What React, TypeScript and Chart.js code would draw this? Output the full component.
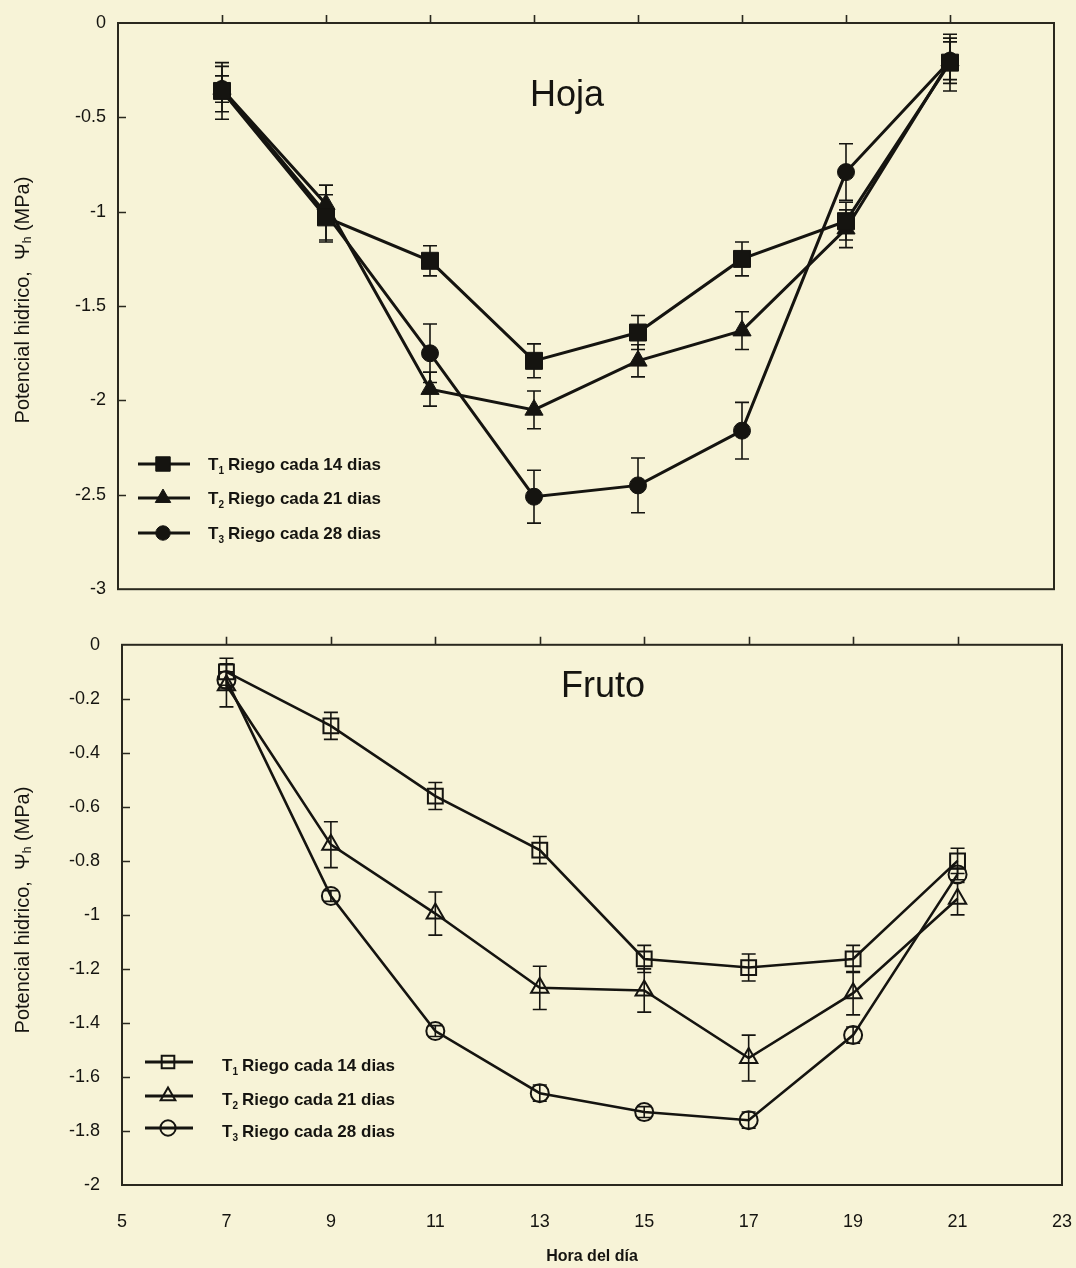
import React, { useEffect, useRef } from 'react';
import { Chart, registerables } from 'chart.js';

Chart.register(...registerables);

// ---------- data ----------
const hours = [7, 9, 11, 13, 15, 17, 19, 21];
const xTickLabels = [5, 7, 9, 11, 13, 15, 17, 19, 21, 23];
const xTopTicks = [7, 9, 11, 13, 15, 17, 19, 21];

const hojaYTicks = [0, -0.5, -1, -1.5, -2, -2.5, -3];
const frutoYTicks = [0, -0.2, -0.4, -0.6, -0.8, -1, -1.2, -1.4, -1.6, -1.8, -2];

const seriesIndex = ['1', '2', '3'];
const seriesLabels = ['Riego cada 14 dias', 'Riego cada 21 dias', 'Riego cada 28 dias'];
const seriesStyles = ['rect', 'triangle', 'circle'];

// Hoja (leaf)
const hojaT1 = [-0.36, -1.03, -1.26, -1.79, -1.64, -1.25, -1.05, -0.21];
const hojaT1Err = [0.15, 0.12, 0.08, 0.09, 0.09, 0.09, 0.1, 0.15];
const hojaT2 = [-0.35, -0.96, -1.94, -2.05, -1.79, -1.63, -1.09, -0.2];
const hojaT2Err = [0.07, 0.1, 0.09, 0.1, 0.085, 0.1, 0.1, 0.1];
const hojaT3 = [-0.35, -1.01, -1.75, -2.51, -2.45, -2.16, -0.79, -0.2];
const hojaT3Err = [0.12, 0.15, 0.155, 0.14, 0.145, 0.15, 0.15, 0.12];

// Fruto (fruit)
const frutoT1 = [-0.1, -0.3, -0.56, -0.76, -1.163, -1.195, -1.163, -0.8];
const frutoT1Err = [0.05, 0.05, 0.05, 0.05, 0.05, 0.05, 0.05, 0.047];
const frutoT2 = [-0.15, -0.74, -0.995, -1.27, -1.28, -1.53, -1.29, -0.94];
const frutoT2Err = [0.08, 0.085, 0.08, 0.08, 0.08, 0.085, 0.08, 0.06];
const frutoT3 = [-0.13, -0.93, -1.43, -1.66, -1.73, -1.76, -1.445, -0.85];
const frutoT3Err = [0.03, 0.02, 0.02, 0.03, 0.02, 0.03, 0.03, 0.02];

// ---------- styles ----------
const BG = '#f7f3d7';
const INK = '#151410';
const AXIS = '#2a281e';
const FONT = '"Liberation Sans", Arial, sans-serif';

type PanelCfg = {
  title: string;
  titleX: number;
  titleY: number;
  yTicks: number[];
  yTitleCenter: number;
  filled: boolean;
  legendY: number[];
  legendLineX: [number, number];
  legendMarkX: number;
  legendTextX: number;
  legendTextDy: number;
  radii: number[];
  xTitle: boolean;
  xTitleY: number;
};

function drawMarker(ctx: CanvasRenderingContext2D, style: string, r: number, x: number, y: number, filled: boolean) {
  ctx.beginPath();
  if (style === 'rect') {
    const s = Math.SQRT1_2 * r;
    ctx.rect(x - s, y - s, 2 * s, 2 * s);
  } else if (style === 'triangle') {
    let rad = 0;
    ctx.moveTo(x + Math.sin(rad) * r, y - Math.cos(rad) * r);
    rad += (2 * Math.PI) / 3;
    ctx.lineTo(x + Math.sin(rad) * r, y - Math.cos(rad) * r);
    rad += (2 * Math.PI) / 3;
    ctx.lineTo(x + Math.sin(rad) * r, y - Math.cos(rad) * r);
    ctx.closePath();
  } else {
    ctx.arc(x, y, r, 0, Math.PI * 2);
  }
  if (filled) {
    ctx.fillStyle = INK;
    ctx.fill();
  }
  ctx.lineWidth = filled ? 1 : 2;
  ctx.strokeStyle = INK;
  ctx.stroke();
}

function makePlugin(cfg: PanelCfg) {
  return {
    id: 'panelDecor',
    beforeDatasetsDraw(chart: any) {
      const ctx: CanvasRenderingContext2D = chart.ctx;
      const { left, right, top, bottom } = chart.chartArea;
      const xs = chart.scales.x;
      const ys = chart.scales.y;
      ctx.save();
      // frame
      ctx.strokeStyle = AXIS;
      ctx.lineWidth = 2;
      ctx.strokeRect(left, top, right - left, bottom - top);
      // top ticks (outward)
      ctx.beginPath();
      xTopTicks.forEach((v) => {
        const x = Math.round(xs.getPixelForValue(v)) + 0.5;
        ctx.moveTo(x, top);
        ctx.lineTo(x, top - 8);
      });
      // left ticks (inward)
      cfg.yTicks.forEach((v, i) => {
        if (i === 0 || i === cfg.yTicks.length - 1) return;
        const y = Math.round(ys.getPixelForValue(v)) + 0.5;
        ctx.moveTo(left, y);
        ctx.lineTo(left + 8, y);
      });
      ctx.lineWidth = 1.6;
      ctx.stroke();

      // error bars
      chart.data.datasets.forEach((ds: any) => {
        const errs: number[] = ds.errors || [];
        ctx.strokeStyle = INK;
        ctx.lineWidth = 1.6;
        ds.data.forEach((p: any, i: number) => {
          const e = errs[i];
          if (!e) return;
          const x = xs.getPixelForValue(p.x);
          const y1 = ys.getPixelForValue(p.y + e);
          const y2 = ys.getPixelForValue(p.y - e);
          ctx.beginPath();
          ctx.moveTo(x, y1);
          ctx.lineTo(x, y2);
          ctx.moveTo(x - 7, y1);
          ctx.lineTo(x + 7, y1);
          ctx.moveTo(x - 7, y2);
          ctx.lineTo(x + 7, y2);
          ctx.stroke();
        });
      });
      ctx.restore();
    },
    afterDatasetsDraw(chart: any) {
      const ctx: CanvasRenderingContext2D = chart.ctx;
      const { left, right } = chart.chartArea;
      ctx.save();
      ctx.fillStyle = INK;
      // panel title
      ctx.font = `36px ${FONT}`;
      ctx.textAlign = 'center';
      ctx.textBaseline = 'middle';
      ctx.fillText(cfg.title, cfg.titleX, cfg.titleY);

      // y title (rotated, with subscript)
      const mainFont = `20px ${FONT}`;
      const subFont = `12px ${FONT}`;
      const segs = [
        { t: 'Potencial hidrico,  Ψ', f: mainFont, dy: 0 },
        { t: 'h', f: subFont, dy: 5 },
        { t: ' (MPa)', f: mainFont, dy: 0 },
      ];
      let total = 0;
      segs.forEach((s) => {
        ctx.font = s.f;
        total += ctx.measureText(s.t).width;
      });
      ctx.translate(23, cfg.yTitleCenter);
      ctx.rotate(-Math.PI / 2);
      ctx.textAlign = 'left';
      let cx = -total / 2;
      segs.forEach((s) => {
        ctx.font = s.f;
        ctx.fillText(s.t, cx, s.dy);
        cx += ctx.measureText(s.t).width;
      });
      ctx.setTransform(1, 0, 0, 1, 0, 0);

      // x title
      if (cfg.xTitle) {
        ctx.font = `bold 16px ${FONT}`;
        ctx.textAlign = 'center';
        ctx.textBaseline = 'middle';
        ctx.fillText('Hora del día', (left + right) / 2, cfg.xTitleY);
      }

      // legend
      chart.data.datasets.forEach((ds: any, i: number) => {
        const y = cfg.legendY[i];
        ctx.strokeStyle = INK;
        ctx.lineWidth = 3;
        ctx.beginPath();
        ctx.moveTo(cfg.legendLineX[0], y);
        ctx.lineTo(cfg.legendLineX[1], y);
        ctx.stroke();
        drawMarker(ctx, seriesStyles[i], cfg.radii[i] * 0.85, cfg.legendMarkX, y, cfg.filled);
        ctx.fillStyle = INK;
        ctx.textAlign = 'left';
        ctx.textBaseline = 'middle';
        let tx = cfg.legendTextX;
        const ty = y + cfg.legendTextDy;
        ctx.font = `bold 17px ${FONT}`;
        ctx.fillText('T', tx, ty);
        tx += ctx.measureText('T').width;
        ctx.font = `bold 10px ${FONT}`;
        ctx.fillText(seriesIndex[i], tx, ty + 6);
        tx += ctx.measureText(seriesIndex[i]).width + 4;
        ctx.font = `bold 17px ${FONT}`;
        ctx.fillText(ds.label, tx, ty);
      });
      ctx.restore();
    },
  };
}

function buildDatasets(values: number[][], errs: number[][], filled: boolean, radii: number[], lineW: number) {
  return values.map((vals, k) => ({
    label: seriesLabels[k],
    data: hours.map((h, i) => ({ x: h, y: vals[i] })),
    errors: errs[k],
    showLine: true,
    tension: 0,
    borderColor: INK,
    borderWidth: lineW,
    pointStyle: seriesStyles[k],
    pointRadius: radii[k],
    pointBackgroundColor: filled ? INK : 'rgba(0,0,0,0)',
    pointBorderColor: INK,
    pointBorderWidth: filled ? 1 : 2,
    clip: false,
  }));
}

const fmt = (v: any) => String(Math.round(Number(v) * 100) / 100);

function Panel(props: {
  width: number;
  height: number;
  top: number;
  cfg: PanelCfg;
  datasets: any[];
  yMin: number;
  yMax: number;
  yWidth: number;
  padding: { left: number; right: number; top: number; bottom: number };
  xHeight: number;
  showX: boolean;
  labelPad: number;
}) {
  const ref = useRef<HTMLCanvasElement | null>(null);
  useEffect(() => {
    if (!ref.current) return;
    const { cfg } = props;
    const chart = new Chart(ref.current, {
      type: 'scatter',
      data: { datasets: props.datasets as any },
      options: {
        responsive: false,
        animation: false,
        events: [],
        layout: { padding: props.padding },
        plugins: { legend: { display: false }, tooltip: { enabled: false }, title: { display: false } },
        scales: {
          x: {
            type: 'linear',
            min: 5,
            max: 23,
            display: props.showX,
            grid: { display: false, drawTicks: false },
            border: { display: false },
            ticks: {
              color: INK,
              font: { family: FONT, size: 18 },
              padding: 26,
              maxRotation: 0,
              autoSkip: false,
              callback: fmt,
            },
            afterBuildTicks: (s: any) => {
              s.ticks = xTickLabels.map((v) => ({ value: v }));
            },
            afterFit: (s: any) => {
              if (props.showX) s.height = props.xHeight;
              s.paddingLeft = 0;
              s.paddingRight = 0;
            },
          },
          y: {
            type: 'linear',
            min: props.yMin,
            max: props.yMax,
            grid: { display: false, drawTicks: false },
            border: { display: false },
            ticks: {
              color: INK,
              font: { family: FONT, size: 18 },
              padding: props.labelPad,
              autoSkip: false,
              callback: fmt,
            },
            afterBuildTicks: (s: any) => {
              s.ticks = cfg.yTicks.map((v) => ({ value: v }));
            },
            afterFit: (s: any) => {
              s.width = props.yWidth;
            },
          },
        },
      },
      plugins: [makePlugin(cfg) as any],
    });
    return () => chart.destroy();
  }, []);
  return (
    <canvas
      ref={ref}
      width={props.width}
      height={props.height}
      style={{ position: 'absolute', left: 0, top: props.top, width: props.width, height: props.height }}
    />
  );
}

const topRadii = [12, 10.5, 8.5];
const botRadii = [10.5, 10, 9];

export default function App() {
  const hojaCfg: PanelCfg = {
    title: 'Hoja',
    titleX: 567,
    titleY: 96,
    yTicks: hojaYTicks,
    yTitleCenter: 300,
    filled: true,
    legendY: [464, 498, 533],
    legendLineX: [138, 190],
    legendMarkX: 163,
    legendTextX: 208,
    legendTextDy: 1,
    radii: topRadii,
    xTitle: false,
    xTitleY: 0,
  };
  const frutoCfg: PanelCfg = {
    title: 'Fruto',
    titleX: 603,
    titleY: 75,
    yTicks: frutoYTicks,
    yTitleCenter: 298,
    filled: false,
    legendY: [450, 484, 516],
    legendLineX: [145, 193],
    legendMarkX: 168,
    legendTextX: 222,
    legendTextDy: 4,
    radii: botRadii,
    xTitle: true,
    xTitleY: 645,
  };
  const topSets = buildDatasets([hojaT1, hojaT2, hojaT3], [hojaT1Err, hojaT2Err, hojaT3Err], true, topRadii, 3);
  const botSets = buildDatasets([frutoT1, frutoT2, frutoT3], [frutoT1Err, frutoT2Err, frutoT3Err], false, botRadii, 2.6);
  return (
    <div style={{ position: 'absolute', left: 0, top: 0, width: 1076, height: 1268, background: BG, overflow: 'hidden' }}>
      <Panel
        width={1076}
        height={612}
        top={0}
        cfg={hojaCfg}
        datasets={topSets}
        yMin={-3}
        yMax={0}
        yWidth={118}
        padding={{ left: 0, right: 22, top: 23, bottom: 12 }}
        xHeight={0}
        showX={false}
        labelPad={12}
      />
      <Panel
        width={1076}
        height={656}
        top={612}
        cfg={frutoCfg}
        datasets={botSets}
        yMin={-2}
        yMax={0}
        yWidth={122}
        padding={{ left: 0, right: 14, top: 13, bottom: 0 }}
        xHeight={83}
        showX={true}
        labelPad={22}
      />
    </div>
  );
}
